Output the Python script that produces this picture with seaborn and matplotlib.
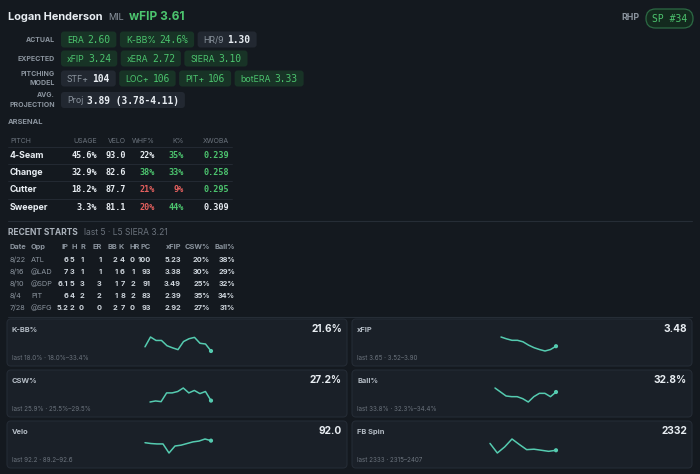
import numpy as np
import pandas as pd
import matplotlib
matplotlib.use("Agg")
import matplotlib.pyplot as plt
import seaborn as sns
from matplotlib.patches import FancyBboxPatch

# ---------------- data ----------------
player_name = "Logan Henderson"
team = "MIL"
headline = "wFIP 3.61"
hand = "RHP"
rank_tag = "SP #34"

actual_labels = ["ERA", "K-BB%", "HR/9"]
actual_values = ["2.60", "24.6%", "1.30"]
actual_good = [True, True, False]
expected_labels = ["xFIP", "xERA", "SIERA"]
expected_values = ["3.24", "2.72", "3.10"]
expected_good = [True, True, True]
model_labels = ["STF+", "LOC+", "PIT+", "botERA"]
model_values = ["104", "106", "106", "3.33"]
model_good = [False, True, True, True]
proj_labels = ["Proj"]
proj_values = ["3.89 (3.78-4.11)"]
proj_good = [False]

pitch_names = ["4-Seam", "Change", "Cutter", "Sweeper"]
usage = [45.6, 32.9, 18.2, 3.3]
velo = [93.0, 82.6, 87.7, 81.1]
whiff = [22, 38, 21, 20]
kpct = [35, 33, 9, 44]
xwoba = [0.239, 0.258, 0.295, 0.309]
whiff_tone = ["n", "g", "r", "r"]
k_tone = ["g", "g", "r", "g"]
xwoba_tone = ["g", "g", "g", "n"]

rs_date = ["8/22", "8/16", "8/10", "8/4", "7/28"]
rs_opp = ["ATL", "@LAD", "@SDP", "PIT", "@SFG"]
rs_ip = ["6", "7", "6.1", "6", "5.2"]
rs_h = [5, 3, 5, 4, 2]
rs_r = [1, 1, 3, 2, 0]
rs_er = [1, 1, 3, 2, 0]
rs_bb = [2, 1, 1, 1, 2]
rs_k = [4, 6, 7, 8, 7]
rs_hr = [0, 1, 2, 2, 0]
rs_pc = [100, 93, 91, 83, 93]
rs_xfip = [5.23, 3.38, 3.49, 2.39, 2.92]
rs_csw = [20, 30, 25, 35, 27]
rs_ball = [38, 29, 32, 34, 31]
l5_siera = "3.21"

card_titles = ["K-BB%", "xFIP", "CSW%", "Ball%", "Velo", "FB Spin"]
card_values = ["21.6%", "3.48", "27.2%", "32.8%", "92.0", "2332"]
kbb_series = [22.6, 33.4, 29.6, 29.6, 23.8, 21.5, 19.5, 28.4, 31.5, 33.0, 26.5, 25.7, 18.0]
xfip_series = [3.90, 3.85, 3.81, 3.81, 3.77, 3.68, 3.61, 3.56, 3.52, 3.56, 3.65]
csw_series = [25.5, 25.8, 25.6, 28.1, 28.1, 28.5, 29.5, 28.1, 28.8, 27.9, 28.5, 25.9]
ball_series = [34.4, 33.8, 33.2, 33.1, 33.1, 32.8, 32.3, 33.1, 33.6, 33.6, 33.1, 33.8]
velo_series = [91.7, 91.5, 91.4, 91.4, 89.2, 90.9, 91.1, 91.5, 91.9, 92.1, 92.6, 92.2]
spin_series = [2378, 2315, 2355, 2407, 2371, 2337, 2340, 2333, 2326, 2333]
card_series = [kbb_series, xfip_series, csw_series, ball_series, velo_series, spin_series]
card_fmt = ["{:.1f}%", "{:.2f}", "{:.1f}%", "{:.1f}%", "{:.1f}", "{:.0f}"]

# ---------------- style ----------------
BG = "#14191f"
CARD = "#1a2028"
CARD_EDGE = "#242b35"
WHITE = "#e8edf2"
GREY = "#8b949e"
DIM = "#6b737d"
GREEN = "#4cc46e"
RED = "#e5605e"
PILL_G = "#183326"
PILL_N = "#222831"
TEAL = "#55cbb0"
LINE = "#262d36"
SANS = ["Inter", "DejaVu Sans"]
MONO = ["DejaVu Sans Mono"]
TONE = {"g": GREEN, "r": RED, "n": WHITE}

sns.set_theme(style="white")
plt.rcParams["font.family"] = SANS

fig = plt.figure(figsize=(7, 4.74), dpi=100, facecolor=BG)
ax = fig.add_axes([0, 0, 1, 1])
ax.set_xlim(0, 700)
ax.set_ylim(474, 0)
ax.axis("off")
ax.set_facecolor(BG)
renderer = fig.canvas.get_renderer()


def tw(t):
    return t.get_window_extent(renderer).width


# ---------- header ----------
t = ax.text(8, 17, player_name, fontsize=7.9, fontweight="bold", color=WHITE, va="center")
x = 8 + tw(t) + 6
t = ax.text(x, 17, team, fontsize=6.6, color=GREY, va="center")
x += tw(t) + 5
ax.text(x, 17, headline, fontsize=8.6, fontweight="bold", color=GREEN, va="center")

ax.text(640, 17, hand, fontsize=6.3, fontweight="bold", color=GREY, va="center", ha="right")
ax.add_patch(FancyBboxPatch((646, 9), 47, 19, boxstyle="round,pad=0,rounding_size=9.5",
                            fc="#132a1e", ec="#2c6a44", lw=0.9))
ax.text(669.5, 18.5, rank_tag, fontsize=7, color=GREEN, va="center", ha="center", family=MONO)


def pill(x, yc, label, value, good, h=16):
    lc = GREEN if good else GREY
    vc = GREEN if good else WHITE
    t1 = ax.text(x + 6, yc + 0.5, label, fontsize=6.3, color=lc, va="center", ha="left", zorder=3)
    w1 = tw(t1)
    t2 = ax.text(x + 6 + w1 + 3.5, yc + 0.5, value, fontsize=6.9, color=vc, va="center",
                 ha="left", family=MONO, fontweight="bold" if not good else "normal", zorder=3)
    w2 = tw(t2)
    W = 6 + w1 + 3.5 + w2 + 6
    ax.add_patch(FancyBboxPatch((x, yc - h / 2), W, h, boxstyle="round,pad=0,rounding_size=3",
                                fc=PILL_G if good else PILL_N, ec="none", zorder=2))
    return x + W


rows = [
    (["ACTUAL"], 39.5, actual_labels, actual_values, actual_good),
    (["EXPECTED"], 58.5, expected_labels, expected_values, expected_good),
    (["PITCHING", "MODEL"], 78.5, model_labels, model_values, model_good),
    (["AVG.", "PROJECTION"], 100, proj_labels, proj_values, proj_good),
]
for lab, yc, labels, values, good in rows:
    if len(lab) == 1:
        ax.text(55, yc, lab[0], fontsize=5.0, fontweight="bold", color=GREY, ha="right", va="center")
    else:
        ax.text(55, yc - 4.8, lab[0], fontsize=5.0, fontweight="bold", color=GREY, ha="right", va="center")
        ax.text(55, yc + 4.8, lab[1], fontsize=5.0, fontweight="bold", color=GREY, ha="right", va="center")
    x = 61
    for l, v, g in zip(labels, values, good):
        x = pill(x, yc, l, v, g) + 3.5

# ---------- arsenal ----------
ax.text(8, 122, "ARSENAL", fontsize=5.4, fontweight="bold", color=GREY, va="center")
hdr_y = 141
col_right = [97, 126, 155, 184, 229]
col_names = ["USAGE", "VELO", "WHF%", "K%", "XWOBA"]
ax.text(10, hdr_y, "PITCH", fontsize=5.0, color=DIM, va="center")
for cx, cn in zip(col_right, col_names):
    ax.text(cx, hdr_y, cn, fontsize=5.0, color=DIM, va="center", ha="right")
ax.plot([8, 232], [147, 147], color=LINE, lw=0.6)
for i, name in enumerate(pitch_names):
    yc = 155.5 + i * 17.2
    ax.text(10, yc, name, fontsize=6.4, fontweight="bold", color=WHITE, va="center")
    vals = [f"{usage[i]:.1f}%", f"{velo[i]:.1f}", f"{whiff[i]}%", f"{kpct[i]}%", f"{xwoba[i]:.3f}"]
    cols = [WHITE, WHITE, TONE[whiff_tone[i]], TONE[k_tone[i]], TONE[xwoba_tone[i]]]
    for cx, v, c in zip(col_right, vals, cols):
        ax.text(cx, yc, v, fontsize=6.1, color=c, va="center", ha="right", family=MONO,
                fontweight="bold")
    if i < len(pitch_names) - 1:
        ax.plot([8, 232], [yc + 8.6, yc + 8.6], color=LINE, lw=0.6)
ax.plot([8, 692], [221, 221], color=LINE, lw=0.8)

# ---------- recent starts ----------
t = ax.text(8, 232, "RECENT STARTS", fontsize=6.1, fontweight="bold", color="#aab2bb", va="center")
ax.text(8 + tw(t) + 6, 232, f"last {len(rs_date)} · L5 SIERA {l5_siera}", fontsize=6.1,
        color=DIM, va="center")
hdr = ["IP", "H", "R", "ER", "BB", "K", "HR", "PC", "xFIP", "CSW%", "Ball%"]
hdr_right = [68, 77, 85, 102, 117, 124, 140, 151, 181, 210, 235]
rs_right = [68, 74.5, 84, 101.5, 117.5, 125, 135, 151, 181, 210, 235]
FS_RS = 5.3
ax.text(10, 247, "Date", fontsize=FS_RS, fontweight="bold", color=GREY, va="center")
ax.text(31, 247, "Opp", fontsize=FS_RS, fontweight="bold", color=GREY, va="center")
for cx, h in zip(hdr_right, hdr):
    ax.text(cx, 247, h, fontsize=FS_RS, fontweight="bold", color=GREY, va="center", ha="right")
for i in range(len(rs_date)):
    yc = 259.5 + i * 12.1
    ax.text(10, yc, rs_date[i], fontsize=FS_RS, color=GREY, va="center")
    ax.text(31, yc, rs_opp[i], fontsize=FS_RS, color=GREY, va="center")
    vals = [rs_ip[i], rs_h[i], rs_r[i], rs_er[i], rs_bb[i], rs_k[i], rs_hr[i], rs_pc[i],
            f"{rs_xfip[i]:.2f}", f"{rs_csw[i]}%", f"{rs_ball[i]}%"]
    for cx, v in zip(rs_right, vals):
        ax.text(cx, yc, str(v), fontsize=FS_RS, fontweight="bold", color="#d0d7de", va="center", ha="right")
ax.plot([8, 692], [317, 317], color=LINE, lw=0.8)

# ---------- trend cards ----------
card_x = [7, 352]
card_top = [319, 370, 421]
card_w, card_h = 340, 47
spark_off = [138, 149, 143, 143, 138, 138]
for k in range(6):
    r, c = divmod(k, 2)
    x0, y0 = card_x[c], card_top[r]
    ax.add_patch(FancyBboxPatch((x0, y0), card_w, card_h, boxstyle="round,pad=0,rounding_size=4",
                                fc=CARD, ec=CARD_EDGE, lw=0.8))
    ax.text(x0 + 5, y0 + 11, card_titles[k], fontsize=5.4, fontweight="bold", color="#b4bcc5", va="center")
    ax.text(x0 + card_w - 5, y0 + 10, card_values[k], fontsize=7.3, fontweight="bold", color=WHITE,
            va="center", ha="right")
    s = card_series[k]
    f = card_fmt[k]
    foot = f"last {f.format(s[-1])} · {f.format(min(s))}–{f.format(max(s))}"
    ax.text(x0 + 5, y0 + 39, foot, fontsize=4.5, color=DIM, va="center")

    left = x0 + spark_off[k]
    right = x0 + 204
    sax = fig.add_axes([left / 700, 1 - (y0 + 32) / 474, (right - left) / 700, 14 / 474])
    sax.axis("off")
    df = pd.DataFrame({"i": np.arange(len(s)), "v": s})
    sns.lineplot(data=df, x="i", y="v", ax=sax, color=TEAL, lw=1.1, clip_on=False)
    sns.scatterplot(x=[df["i"].iloc[-1]], y=[df["v"].iloc[-1]], ax=sax, color=TEAL, s=9,
                    edgecolor="none", clip_on=False)
    sax.set_xlim(0, len(s) - 1)
    sax.set_ylim(min(s), max(s))
    sax.patch.set_alpha(0)

fig.savefig("out.png", dpi=100, facecolor=BG)
